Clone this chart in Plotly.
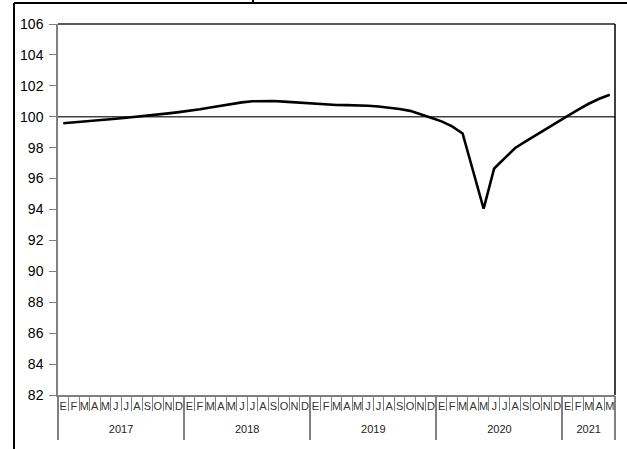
import plotly.graph_objects as go

years = ["2017"] * 12 + ["2018"] * 12 + ["2019"] * 12 + ["2020"] * 12 + ["2021"] * 5
month_letters = ["E", "F", "M", "A", "M", "J", "J", "A", "S", "O", "N", "D"]
months = month_letters * 4 + month_letters[:5]

values = [
    99.58, 99.63, 99.69, 99.75, 99.81, 99.87, 99.94, 100.00, 100.07, 100.14, 100.22, 100.30,
    100.38, 100.48, 100.60, 100.72, 100.83, 100.93, 101.00, 101.03, 101.02, 100.98, 100.93, 100.88,
    100.82, 100.78, 100.76, 100.75, 100.74, 100.71, 100.66, 100.59, 100.50, 100.38, 100.18, 99.94,
    99.70, 99.38, 98.92, 96.50, 94.05, 96.65, 97.33, 97.98, 98.40, 98.80, 99.20, 99.60,
    100.05, 100.46, 100.84, 101.16, 101.42,
]
reference_level = 100

n = len(values)
keys = [f"{y}-{i % 12 + 1:02d}" for i, y in enumerate(years)]
month_bounds = [i - 0.5 for i in range(n + 1)]
year_names = list(dict.fromkeys(years))
year_first = [years.index(y) for y in year_names]
year_last = [n - 1 - years[::-1].index(y) for y in year_names]
year_centers = [(a + b) / 2 for a, b in zip(year_first, year_last)]
year_bounds = [a - 0.5 for a in year_first] + [n - 0.5]
xrange = [-0.5, n - 0.5]

fig = go.Figure()
fig.add_trace(go.Scatter(
    x=keys, y=values, mode="lines",
    line=dict(color="black", width=2.6), showlegend=False, hoverinfo="skip",
))
# empty traces so the overlaid tick axes get drawn
for ax in ["x2", "x3", "x4"]:
    fig.add_trace(go.Scatter(x=xrange, y=[None, None], xaxis=ax, yaxis="y",
                             mode="lines", showlegend=False, hoverinfo="skip"))

fig.add_shape(type="line", xref="paper", yref="y", x0=0, x1=1,
              y0=reference_level, y1=reference_level,
              line=dict(color="#404040", width=1.3), layer="below")
# top and right plot border
fig.add_shape(type="line", xref="paper", yref="paper", x0=0, x1=1, y0=1, y1=1,
              line=dict(color="#222222", width=1.5))
fig.add_shape(type="line", xref="paper", yref="paper", x0=1, x1=1, y0=0, y1=1,
              line=dict(color="black", width=1.5))
# outer frame (cropped)
fig.add_shape(type="line", xref="paper", yref="paper", x0=-0.079, x1=-0.079, y0=-0.3, y1=1.0566,
              line=dict(color="black", width=2))
fig.add_shape(type="line", xref="paper", yref="paper", x0=-0.079, x1=1.1, y0=1.0566, y1=1.0566,
              line=dict(color="black", width=2))
fig.add_shape(type="line", xref="paper", yref="paper", x0=0.35, x1=0.35, y0=1.0566, y1=1.07,
              line=dict(color="black", width=2))

fig.update_layout(
    width=627, height=449,
    margin=dict(l=58, r=12, t=24, b=54, autoexpand=False),
    paper_bgcolor="white", plot_bgcolor="white",
    font=dict(family="Liberation Sans, Arial, sans-serif", color="black"),
    showlegend=False,
    xaxis=dict(
        type="category", range=xrange, automargin=False,
        tickmode="array", tickvals=keys, ticktext=months, tickangle=0,
        ticks="", showline=True, linecolor="#808080", linewidth=1.5,
        tickfont=dict(size=11, color="#333333"),
        showgrid=False, zeroline=False,
    ),
    xaxis2=dict(
        overlaying="x", anchor="y", side="bottom", range=xrange, automargin=False,
        tickmode="array", tickvals=month_bounds, showticklabels=False,
        ticks="outside", ticklen=15, tickcolor="#808080", tickwidth=1.2,
        showline=False, showgrid=False, zeroline=False,
    ),
    xaxis3=dict(
        overlaying="x", anchor="y", side="bottom", range=xrange, automargin=False,
        tickmode="array", tickvals=year_bounds, showticklabels=False,
        ticks="outside", ticklen=44, tickcolor="#808080", tickwidth=1.5,
        showline=False, showgrid=False, zeroline=False,
    ),
    xaxis4=dict(
        overlaying="x", anchor="y", side="bottom", range=xrange, automargin=False,
        tickmode="array", tickvals=year_centers, ticktext=year_names, tickangle=0,
        ticks="", ticklabelstandoff=26, tickfont=dict(size=11, color="#222222"),
        showline=False, showgrid=False, zeroline=False,
    ),
    yaxis=dict(
        range=[82, 106], dtick=2, tick0=82, automargin=False,
        showline=True, linecolor="#808080", linewidth=1.5,
        ticks="outside", ticklen=7, tickcolor="#808080", ticklabelstandoff=3,
        tickfont=dict(size=14, color="black"),
        showgrid=False, zeroline=False,
    ),
)

fig.write_html("out.html", config={"displayModeBar": False},
               post_script="document.body.style.margin='0';")
